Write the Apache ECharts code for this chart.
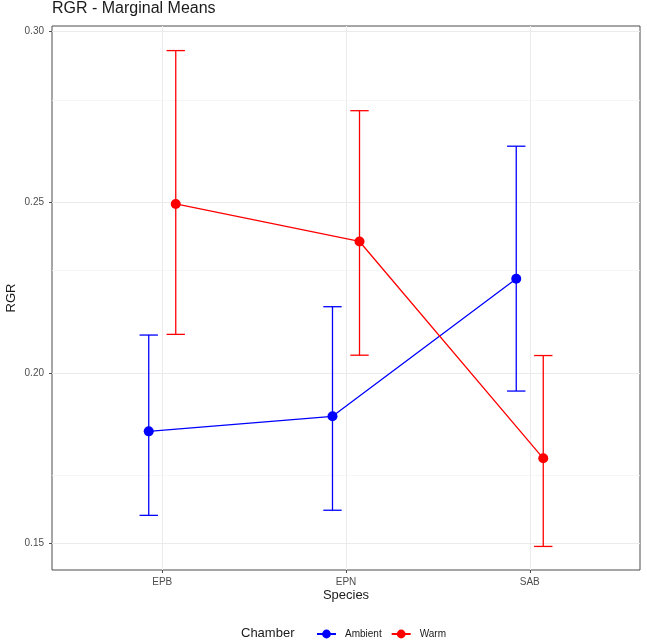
<!DOCTYPE html>
<html>
<head>
<meta charset="utf-8">
<title>RGR - Marginal Means</title>
<script src="https://cdn.jsdelivr.net/npm/echarts@6/dist/echarts.min.js"></script>
<style>
  html, body { margin: 0; padding: 0; background: #ffffff; }
  #chart { width: 647px; height: 644px; }
</style>
</head>
<body>
<div id="chart"></div>
<script>
// Species on the x axis, placed at positions 1, 2, 3
const species = ['EPB', 'EPN', 'SAB'];

// Estimated marginal means of RGR with lower / upper confidence limits
const ambientMean  = [0.1829, 0.1873, 0.2276];
const ambientLower = [0.1583, 0.1598, 0.1947];
const ambientUpper = [0.2111, 0.2194, 0.2664];

const warmMean  = [0.2495, 0.2385, 0.1750];
const warmLower = [0.2113, 0.2052, 0.1492];
const warmUpper = [0.2944, 0.2768, 0.2051];

// Axis ticks
const xTicks = [1, 2, 3];
const yTicks = [0.15, 0.20, 0.25, 0.30];
const yMinorTicks = [0.175, 0.225, 0.275];

const FONT = '"Liberation Sans", Arial, Helvetica, sans-serif';
const DODGE = 0.0735;   // horizontal offset between chambers
const CAP = 0.05;       // half width of the error bar caps

function points(means, shift) {
  return means.map((m, i) => [xTicks[i] + shift, m]);
}
function bars(lower, upper, shift) {
  return lower.map((lo, i) => [xTicks[i] + shift, lo, upper[i]]);
}

function errorBarSeries(name, color, lower, upper, shift) {
  return {
    name: name,
    type: 'custom',
    silent: true,
    z: 3,
    data: bars(lower, upper, shift),
    encode: { x: 0, y: [1, 2] },
    renderItem: function (params, api) {
      const x = api.value(0);
      const lo = api.coord([x, api.value(1)]);
      const hi = api.coord([x, api.value(2)]);
      const left = api.coord([x - CAP, api.value(2)])[0];
      const right = api.coord([x + CAP, api.value(2)])[0];
      const style = { stroke: color, lineWidth: 1.3, fill: null };
      return {
        type: 'group',
        children: [
          { type: 'line', shape: { x1: lo[0], y1: lo[1], x2: hi[0], y2: hi[1] }, style: style },
          { type: 'line', shape: { x1: left, y1: hi[1], x2: right, y2: hi[1] }, style: style },
          { type: 'line', shape: { x1: left, y1: lo[1], x2: right, y2: lo[1] }, style: style }
        ]
      };
    }
  };
}

function meanSeries(name, color, means, shift) {
  return {
    name: name,
    type: 'line',
    z: 4,
    data: points(means, shift),
    symbol: 'circle',
    symbolSize: 10,
    showSymbol: true,
    lineStyle: { color: color, width: 1.3 },
    itemStyle: { color: color },
    emphasis: { disabled: true },
    animation: false
  };
}

const chart = echarts.init(document.getElementById('chart'), null, { renderer: 'canvas' });

chart.setOption({
  animation: false,
  backgroundColor: '#ffffff',
  textStyle: { fontFamily: FONT },
  grid: {
    left: 52, top: 26, width: 588, height: 544,
    show: true, borderColor: '#4d4d4d', borderWidth: 1, backgroundColor: 'transparent'
  },
  xAxis: {
    type: 'value',
    min: 0.4,
    max: 3.6,
    axisLine: { show: false },
    axisTick: { show: true, length: 3, customValues: xTicks, lineStyle: { color: '#4d4d4d', width: 1 } },
    axisLabel: {
      customValues: xTicks,
      margin: 7,
      color: '#4d4d4d',
      fontSize: 10,
      fontFamily: FONT,
      formatter: function (v) { return species[Math.round(v) - 1]; }
    },
    splitLine: { show: true, lineStyle: { color: '#ebebeb', width: 1 } }
  },
  yAxis: {
    type: 'value',
    min: 0.1423,
    max: 0.3016,
    axisLine: { show: false },
    axisTick: { show: true, length: 3, customValues: yTicks, lineStyle: { color: '#4d4d4d', width: 1 } },
    axisLabel: {
      customValues: yTicks,
      margin: 8,
      color: '#4d4d4d',
      fontSize: 10,
      fontFamily: FONT,
      formatter: function (v) { return v.toFixed(2); }
    },
    splitLine: { show: true, lineStyle: { color: '#ebebeb', width: 1 } }
  },
  legend: {
    data: ['Ambient', 'Warm'],
    left: 311,
    top: 624,
    itemWidth: 19,
    itemHeight: 11,
    itemGap: 9,
    selectedMode: false,
    textStyle: { color: '#1a1a1a', fontSize: 10, fontFamily: FONT, padding: [0, 0, 0, 4] }
  },
  graphic: [
    {
      type: 'text', left: 52, top: 1,
      style: { text: 'RGR - Marginal Means', fill: '#1a1a1a', fontSize: 16, fontFamily: FONT }
    },
    {
      type: 'text', x: 11, y: 298, rotation: Math.PI / 2,
      style: { text: 'RGR', fill: '#1a1a1a', fontSize: 13, fontFamily: FONT, align: 'center', verticalAlign: 'middle' }
    },
    {
      type: 'text', x: 346, y: 595,
      style: { text: 'Species', fill: '#1a1a1a', fontSize: 13, fontFamily: FONT, align: 'center', verticalAlign: 'middle' }
    },
    {
      type: 'text', x: 241, y: 633,
      style: { text: 'Chamber', fill: '#1a1a1a', fontSize: 13, fontFamily: FONT, align: 'left', verticalAlign: 'middle' }
    }
  ],
  series: [
    meanSeries('Ambient', '#0000ff', ambientMean, -DODGE),
    meanSeries('Warm', '#ff0000', warmMean, DODGE),
    errorBarSeries('Ambient limits', '#0000ff', ambientLower, ambientUpper, -DODGE),
    errorBarSeries('Warm limits', '#ff0000', warmLower, warmUpper, DODGE),
    {
      name: 'minor grid',
      type: 'line',
      data: [],
      silent: true,
      z: 0,
      markLine: {
        z: 0,
        silent: true,
        symbol: 'none',
        animation: false,
        label: { show: false },
        lineStyle: { color: '#f2f2f2', width: 0.7, type: 'solid' },
        data: yMinorTicks.map(v => ({ yAxis: v }))
      }
    }
  ]
});
</script>
</body>
</html>
